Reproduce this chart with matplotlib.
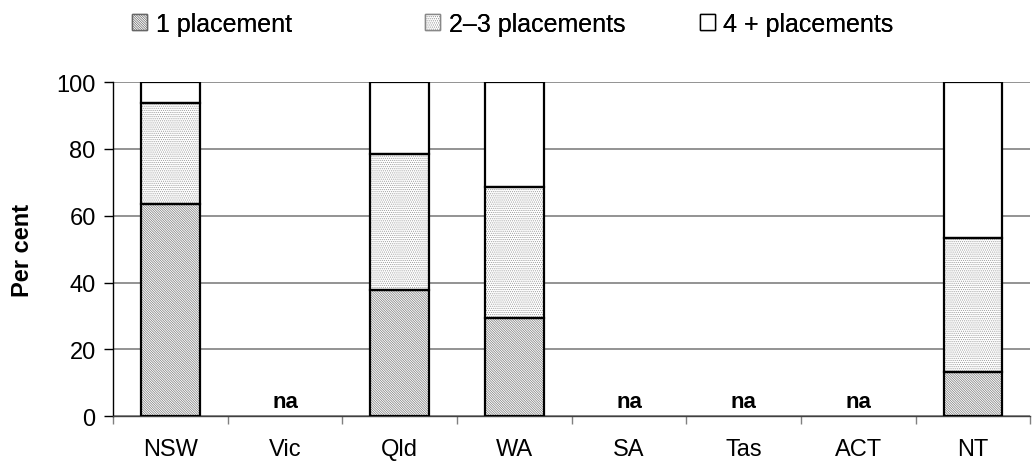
import numpy as np
import matplotlib.pyplot as plt
from matplotlib.patches import Patch

plt.rcParams['font.family'] = ['Liberation Sans', 'DejaVu Sans']
plt.rcParams['hatch.linewidth'] = 0.5

states = ['NSW', 'Vic', 'Qld', 'WA', 'SA', 'Tas', 'ACT', 'NT']
one = [63.5, np.nan, 37.8, 29.5, np.nan, np.nan, np.nan, 13.1]
two_three = [30.1, np.nan, 40.6, 39.0, np.nan, np.nan, np.nan, 40.1]
four_plus = [6.4, np.nan, 21.6, 31.5, np.nan, np.nan, np.nan, 46.8]
series_names = ['1 placement', '2\u20133 placements', '4 + placements']

fig = plt.figure(figsize=(10.32, 4.64), dpi=100)
ax = fig.add_axes([0.1095, 0.101, 0.889, 0.72])

x = np.arange(len(states))
w = 0.51
diag = '\\' * 14
dots = '.' * 8
styles = [('#ffffff', '#7a7a7a', diag),
          ('#ffffff', '#999999', dots),
          ('#ffffff', '#ffffff', None)]

bottom = np.zeros(len(states))
for vals, (fc, hc, hatch) in zip([one, two_three, four_plus], styles):
    v = np.array(vals, dtype=float)
    ok = ~np.isnan(v)
    # hatched fill first, then a clean black outline on top
    ax.bar(x[ok], v[ok], w, bottom=bottom[ok], color=fc, edgecolor=hc,
           hatch=hatch, linewidth=0, zorder=2)
    ax.bar(x[ok], v[ok], w, bottom=bottom[ok], fill=False,
           edgecolor='black', linewidth=1.6, zorder=3)
    bottom[ok] += v[ok]

for i, v in enumerate(one):
    if np.isnan(v):
        ax.text(i, 1.2, 'na', ha='center', va='bottom', fontsize=16,
                fontweight='bold')

ax.set_xlim(-0.5, len(states) - 0.5)
ax.set_ylim(0, 100)
ax.set_yticks(np.arange(0, 101, 20))
ax.yaxis.grid(True, color='#808080', linewidth=1.2, zorder=0)
ax.set_axisbelow(True)
ax.set_xticks(x)
ax.set_xticklabels(states, fontsize=17)
ax.set_xticks(np.arange(-0.5, len(states)), minor=True)
ax.tick_params(axis='x', which='major', length=0, pad=16)
ax.tick_params(axis='x', which='minor', length=5.5, width=1, color='#808080')
ax.tick_params(axis='y', labelsize=17, length=6.5, width=1, pad=6)
ax.set_ylabel('Per cent', fontsize=17, fontweight='bold', labelpad=16)
for s in ['top', 'right']:
    ax.spines[s].set_visible(False)
ax.spines['left'].set_linewidth(1)
ax.spines['bottom'].set_linewidth(1)
ax.spines['bottom'].set_color('#404040')

# one legend per entry so each sits at its own spot along the top
handles = [Patch(facecolor='#ffffff', edgecolor='#666666', hatch=diag),
           Patch(facecolor='#ffffff', edgecolor='#888888', hatch=dots),
           Patch(facecolor='#ffffff', edgecolor='black')]
legend_x = [0.128, 0.412, 0.678]
for h, name, lx in zip(handles, series_names, legend_x):
    leg = fig.legend([h], [name], loc='center left',
                     bbox_to_anchor=(lx, 0.947), frameon=False, fontsize=18,
                     handlelength=0.6, handleheight=0.6, handletextpad=0.35,
                     borderaxespad=0, borderpad=0)
    fig.add_artist(leg)

fig.savefig('out.png', dpi=100)
